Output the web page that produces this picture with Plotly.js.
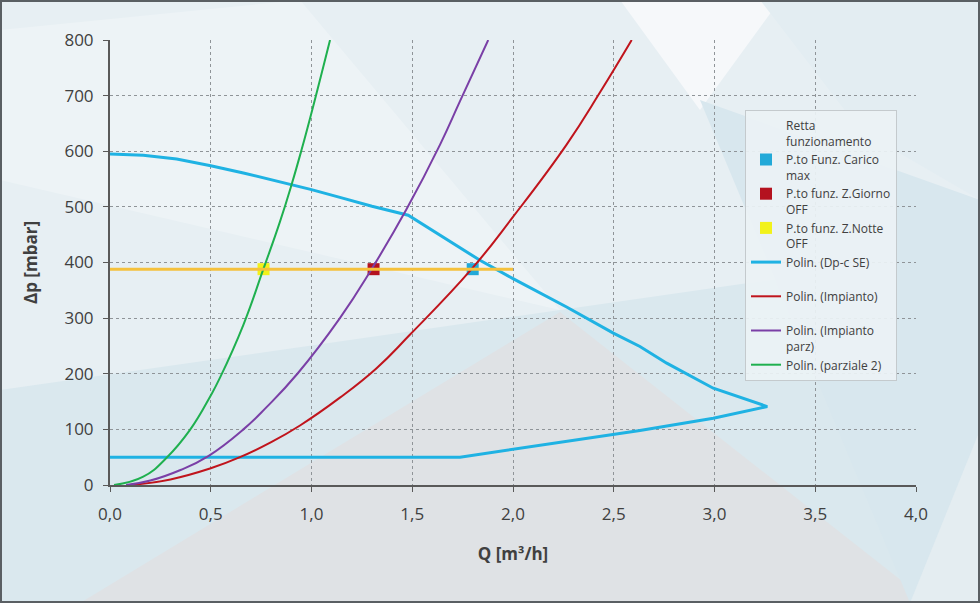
<!DOCTYPE html>
<html lang="it">
<head>
<meta charset="UTF-8">
<title>Curva Dp-c SE</title>
<script src="https://cdn.plot.ly/plotly-3.0.1.min.js"></script>
<style>
  html, body { margin: 0; padding: 0; background: #e6eef2; }
  #chart { width: 980px; height: 603px; }
</style>
</head>
<body>
<div id="chart"></div>
<script>
// curva pompa Dp-c SE (andata e ritorno, lettura dal grafico)
const dpcQ = [0, 0.165, 0.331, 0.5, 0.662, 0.902, 1.0, 1.141, 1.30, 1.48, 1.836, 2.0, 2.266, 2.498, 2.63, 2.763, 2.994, 3.262, 2.994, 2.63, 2.498, 2.0, 1.737, 0];
const dpcP = [595, 593, 586, 574, 561, 540, 531, 517, 501, 485, 404, 371, 320, 273, 249, 219, 174, 141, 120, 98, 91, 64, 50, 50];

// curve impianto
const impQ = [0.10, 0.3, 0.5, 0.645, 0.8, 0.943, 1.141, 1.323, 1.488, 1.794, 2.0, 2.266, 2.432, 2.589];
const impP = [0, 10, 30, 50, 77, 107, 157, 210, 270, 388, 482, 612, 706, 800];

const parzQ = [0.08, 0.2, 0.35, 0.488, 0.662, 0.777, 0.93, 1.141, 1.298, 1.472, 1.638, 1.737, 1.877];
const parzP = [0, 8, 27, 52, 100, 140, 200, 300, 388, 496, 612, 690, 800];

const parz2Q = [0.02, 0.165, 0.281, 0.397, 0.5, 0.546, 0.662, 0.761, 0.844, 0.902, 0.951, 1.012, 1.092];
const parz2P = [0, 15, 49, 99, 161, 193, 288, 388, 474, 541, 603, 686, 800];

// retta di funzionamento e punti
const rettaQ = [0, 2.0];
const rettaP = [388, 388];
const caricoMax = [1.80, 388];
const giornoOff = [1.308, 388];
const notteOff = [0.762, 388];

const xTicks = [0, 0.5, 1.0, 1.5, 2.0, 2.5, 3.0, 3.5, 4.0];
const yTicks = [0, 100, 200, 300, 400, 500, 600, 700, 800];

// plot area in pixels
const L = 110, R = 916, T = 40, B = 485, W = 980, H = 603;
const px = x => (x - L) / (R - L);
const py = y => (B - y) / (B - T);
function poly(pts, color) {
    let d = pts.map((p, i) => (i ? 'L' : 'M') + px(p[0]).toFixed(4) + ',' + py(p[1]).toFixed(4)).join(' ') + ' Z';
    return { type: 'path', xref: 'paper', yref: 'paper', path: d, fillcolor: color, line: { width: 0 }, layer: 'below' };
}

// sfondo a poligoni
const shapes = [
    poly([[0, 0], [980, 0], [980, 603], [0, 603]], '#e7eff3'),
    poly([[0, 30], [300, 0], [560, 310], [0, 180]], '#edf3f6'),
    poly([[0, 390], [560, 310], [980, 250], [980, 603], [0, 603]], '#dae8ee'),
    poly([[80, 603], [560, 312], [930, 603]], '#dfe2e5'),
    poly([[620, 0], [780, 0], [700, 110]], '#f6f8fa'),
    poly([[760, 0], [980, 0], [980, 200], [860, 130]], '#e3edf2'),
    poly([[700, 100], [980, 200], [980, 603], [910, 603]], '#d8e7ee'),
    poly([[910, 603], [980, 430], [980, 603]], '#e4edf1'),
    { type: 'rect', xref: 'paper', yref: 'paper', x0: px(1), y0: py(602), x1: px(979), y1: py(1),
      line: { color: '#5a5f63', width: 2 }, fillcolor: 'rgba(0,0,0,0)', layer: 'above' }
];

const data = [
    { x: rettaQ, y: rettaP, name: 'Retta<br>funzionamento', legendrank: 1, mode: 'none', type: 'scatter', hoverinfo: 'skip' },
    { x: [caricoMax[0]], y: [caricoMax[1]], name: 'P.to Funz. Carico<br>max', legendrank: 2, mode: 'markers', type: 'scatter',
      marker: { symbol: 'square', size: 12, color: '#22a9d8' } },
    { x: [giornoOff[0]], y: [giornoOff[1]], name: 'P.to funz. Z.Giorno<br>OFF', legendrank: 3, mode: 'markers', type: 'scatter',
      marker: { symbol: 'square', size: 12, color: '#b4121f' } },
    { x: [notteOff[0]], y: [notteOff[1]], name: 'P.to funz. Z.Notte<br>OFF', legendrank: 4, mode: 'markers', type: 'scatter',
      marker: { symbol: 'square', size: 12, color: '#f2f21a' } },
    { x: dpcQ, y: dpcP, name: 'Polin. (Dp-c SE)<br> ', legendrank: 5, mode: 'lines', type: 'scatter',
      line: { color: '#1fb2e3', width: 3 } },
    { x: impQ, y: impP, name: 'Polin. (Impianto)<br> ', legendrank: 6, mode: 'lines', type: 'scatter',
      line: { color: '#c0141c', width: 2, shape: 'spline', smoothing: 1.3 } },
    { x: parzQ, y: parzP, name: 'Polin. (Impianto<br>parz)', legendrank: 7, mode: 'lines', type: 'scatter',
      line: { color: '#7a3fa6', width: 2, shape: 'spline', smoothing: 1.3 } },
    { x: parz2Q, y: parz2P, name: 'Polin. (parziale 2)', legendrank: 8, mode: 'lines', type: 'scatter',
      line: { color: '#1fb04f', width: 2, shape: 'spline', smoothing: 1.3 } },
    // la retta gialla passa sopra i punti
    { x: rettaQ, y: rettaP, mode: 'lines', type: 'scatter', showlegend: false,
      line: { color: '#f5c13c', width: 3 } }
];

const tickFont = { family: 'Open Sans, Noto Sans, sans-serif', size: 17, color: '#404040' };
const titleFont = { family: 'Open Sans, sans-serif', size: 17, color: '#404040' };

const layout = {
    width: W, height: H,
    margin: { l: L, r: W - R, t: T, b: H - B },
    paper_bgcolor: '#e6eef2',
    plot_bgcolor: 'rgba(0,0,0,0)',
    separators: ',.',
    shapes: shapes,
    xaxis: {
        range: [0, 4], tickvals: xTicks, tickformat: '.1f',
        showgrid: true, gridcolor: '#8f9498', griddash: 'dot', gridwidth: 1,
        showline: true, linecolor: '#595959', linewidth: 2,
        ticks: 'outside', ticklen: 5, tickcolor: '#595959',
        zeroline: false, tickfont: tickFont, ticklabelstandoff: 8,
        title: { text: '<b>Q [m³/h]</b>', font: titleFont, standoff: 24 }
    },
    yaxis: {
        range: [0, 800], tickvals: yTicks,
        showgrid: true, gridcolor: '#8f9498', griddash: 'dot', gridwidth: 1,
        showline: true, linecolor: '#595959', linewidth: 2,
        ticks: 'outside', ticklen: 5, tickcolor: '#595959',
        zeroline: false, tickfont: tickFont, ticklabelstandoff: 6,
        title: { text: '<b>Δp [mbar]</b>', font: titleFont, standoff: 22 }
    },
    legend: {
        x: px(745), y: py(110), xanchor: 'left', yanchor: 'top',
        bgcolor: 'rgba(236,242,245,0.92)', bordercolor: '#c4cacd', borderwidth: 1,
        font: { family: 'Open Sans, sans-serif', size: 12, color: '#404040' },
        traceorder: 'normal', valign: 'top'
    },
    showlegend: true
};

Plotly.newPlot('chart', data, layout, { displayModeBar: false, staticPlot: true });
</script>
</body>
</html>
